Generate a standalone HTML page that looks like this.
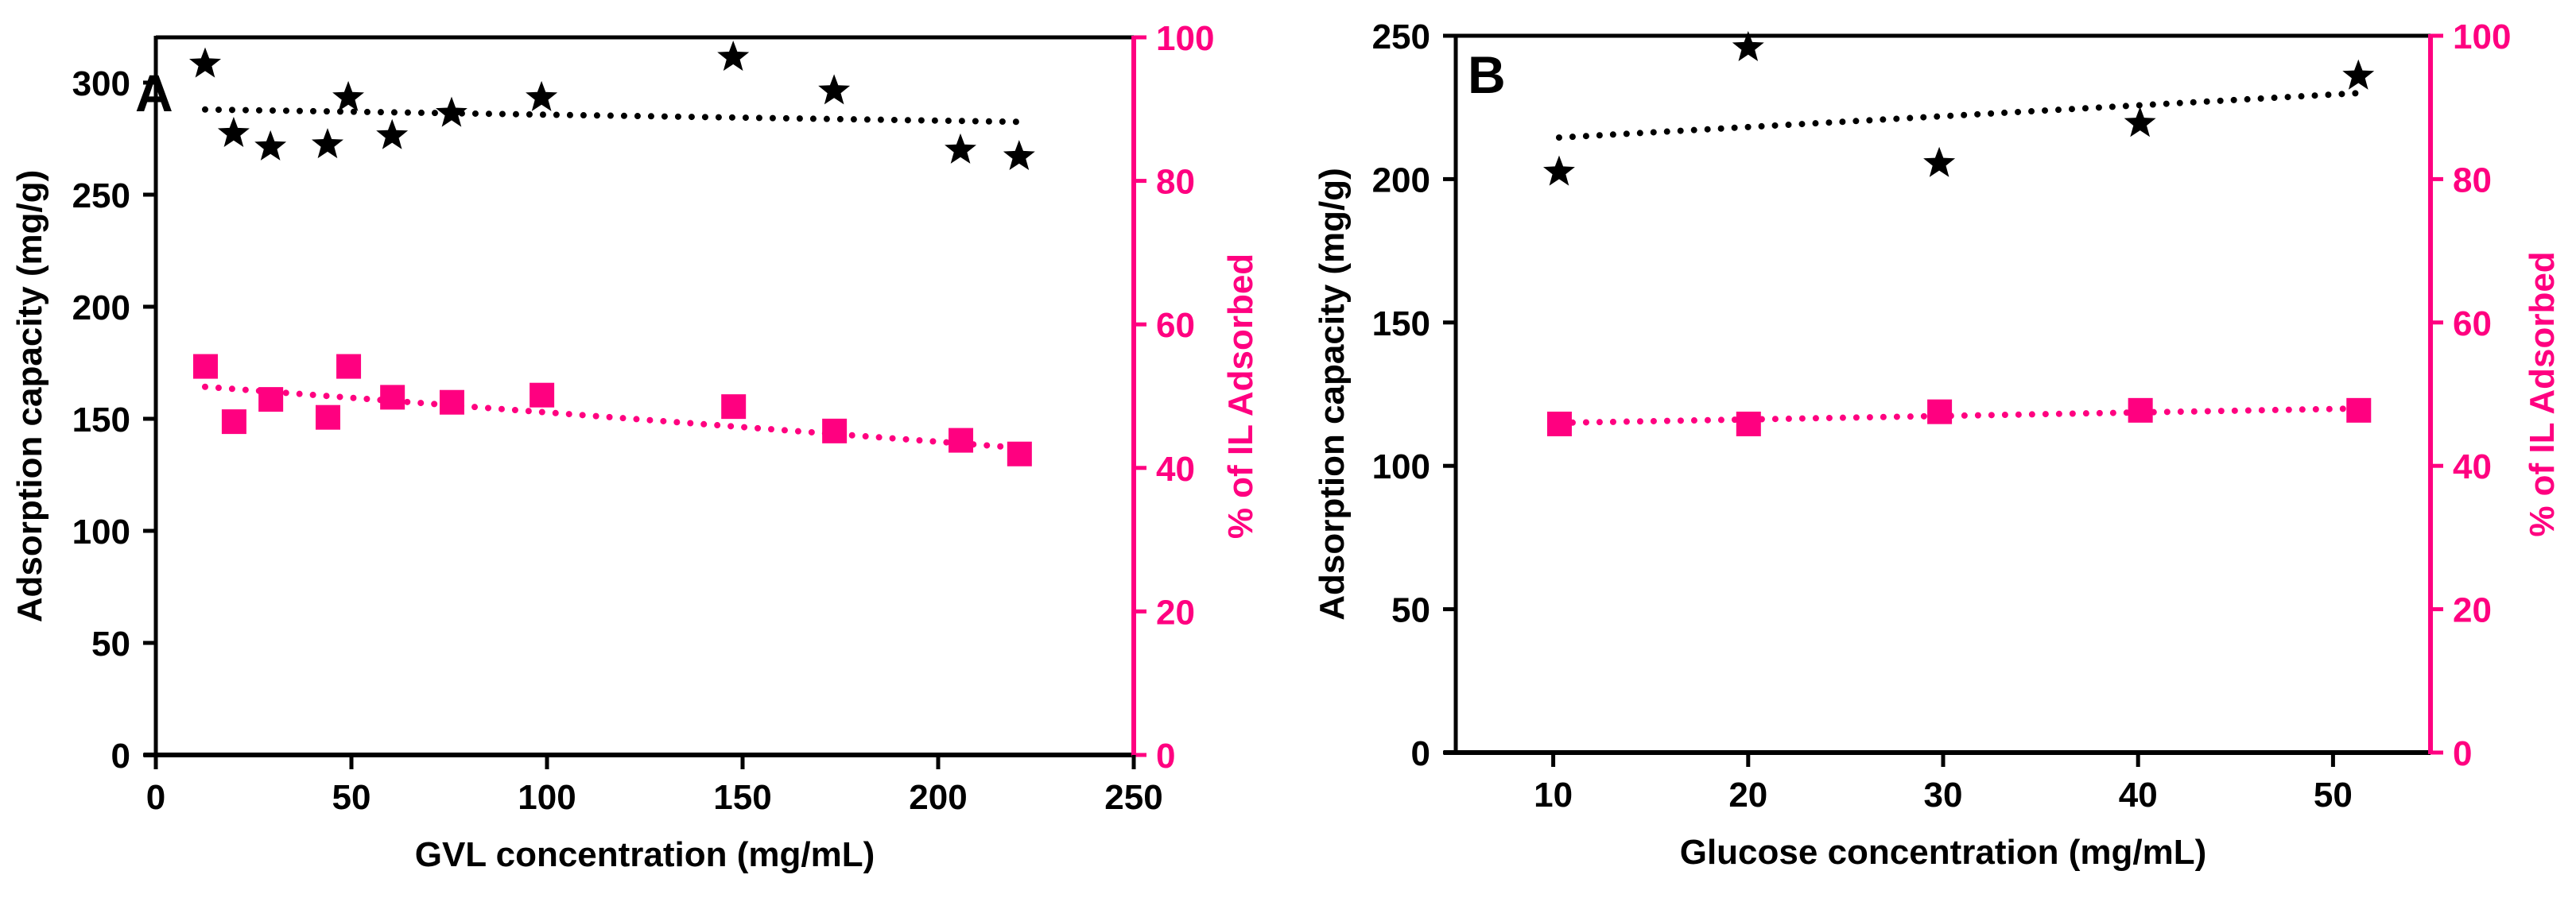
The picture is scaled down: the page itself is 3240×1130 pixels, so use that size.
<!DOCTYPE html>
<html><head><meta charset="utf-8"><style>
html,body{margin:0;padding:0;background:#fff;}
svg{display:block;font-family:"Liberation Sans",Arial,sans-serif;font-weight:bold;}
</style></head><body>
<svg id="chart" width="3240" height="1130" viewBox="0 0 3240 1130" xmlns="http://www.w3.org/2000/svg"></svg>
<script>
// Panel A data
const aX = [12.6, 19.9, 29.3, 43.9, 49.2, 60.4, 75.6, 98.6, 147.6, 173.4, 205.7, 220.7];
const aCapacity = [309, 278, 272, 273, 294, 277, 287, 294, 312, 297, 270.6, 267.7];
const aPercent = [54.2, 46.5, 49.6, 47.1, 54.2, 49.9, 49.2, 50.2, 48.6, 45.2, 43.9, 42.0];
const aCapTrend = [288, 282.5];
const aPctTrend = [51.3, 42.8];
const aXTicks = [0, 50, 100, 150, 200, 250];
const aYTicks = [0, 50, 100, 150, 200, 250, 300];
const aRTicks = [0, 20, 40, 60, 80, 100];
// Panel B data
const bX = [10.3, 20.0, 29.8, 40.1, 51.3];
const bCapacity = [203, 246.4, 206, 220, 236.5];
const bPercent = [45.9, 45.9, 47.6, 47.8, 47.8];
const bCapTrend = [214.5, 230];
const bPctTrend = [46.0, 48.0];
const bXTicks = [10, 20, 30, 40, 50];
const bYTicks = [0, 50, 100, 150, 200, 250];
const bRTicks = [0, 20, 40, 60, 80, 100];

const NS = "http://www.w3.org/2000/svg";
const svg = document.getElementById('chart');
const PINK = "#ff0080";
function mk(tag, attrs, parent){
  const e = document.createElementNS(NS, tag);
  for (const k in attrs) e.setAttribute(k, attrs[k]);
  (parent||svg).appendChild(e);
  return e;
}
function scale(d0,d1,r0,r1){return v => r0 + (v-d0)/(d1-d0)*(r1-r0);}
function starPath(cx,cy,R){
  const r = R*0.42; let p = "";
  for(let i=0;i<10;i++){
    const ang = -Math.PI/2 + i*Math.PI/5;
    const rr = i%2===0?R:r;
    p += (i?"L":"M") + (cx+rr*Math.cos(ang)).toFixed(1) + " " + (cy+rr*Math.sin(ang)).toFixed(1);
  }
  return p+"Z";
}

function panel(cfg){
  const g = mk('g', {});
  
  
  const X = scale(cfg.xMin, cfg.xMax, cfg.left, cfg.right);
  const Y = scale(0, cfg.yMax, cfg.bottom, cfg.top);
  const R = scale(0, 100, cfg.bottom, cfg.top);

  // top frame
  let e = mk('line', {x1:cfg.left, y1:cfg.top, x2:cfg.right, y2:cfg.top, stroke:'#000', 'stroke-width':5}, g);
   
  // left axis
  e = mk('line', {x1:cfg.left, y1:cfg.top-2, x2:cfg.left, y2:cfg.bottom+3, stroke:'#000', 'stroke-width':5}, g);
   
  // bottom axis
  e = mk('line', {x1:cfg.left-15, y1:cfg.bottom, x2:cfg.right, y2:cfg.bottom, stroke:'#000', 'stroke-width':6}, g);
   
  // right axis
  e = mk('line', {x1:cfg.right, y1:cfg.top-2, x2:cfg.right, y2:cfg.bottom+2, stroke:PINK, 'stroke-width':6}, g);
   

  cfg.yTicks.forEach(v=>{
    const y = Y(v);
    let t = mk('line', {x1:cfg.left-16, y1:y, x2:cfg.left, y2:y, stroke:'#000', 'stroke-width':5}, g);
     
    t = mk('text', {x:cfg.left-32, y:y+16, 'text-anchor':'end', 'font-size':44, fill:'#000'}, g);
     
    t.textContent = v;
  });
  cfg.rTicks.forEach(v=>{
    const y = R(v);
    let t = mk('line', {x1:cfg.right, y1:y, x2:cfg.right+16, y2:y, stroke:PINK, 'stroke-width':5}, g);
     
    t = mk('text', {x:cfg.right+28, y:y+16, 'text-anchor':'start', 'font-size':44, fill:PINK}, g);
     
    t.textContent = v;
  });
  cfg.xTicks.forEach(v=>{
    const x = X(v);
    let t = mk('line', {x1:x, y1:cfg.bottom, x2:x, y2:cfg.bottom+18, stroke:'#000', 'stroke-width':5}, g);
     
    t = mk('text', {x:x, y:cfg.bottom+68, 'text-anchor':'middle', 'font-size':44, fill:'#000'}, g);
     
    t.textContent = v;
  });

  // titles
  let t = mk('text', {x:(cfg.left+cfg.right)/2, y:cfg.bottom+140, 'text-anchor':'middle', 'font-size':44, fill:'#000'}, g);
   
  t.textContent = cfg.xTitle;
  t = mk('text', {x:0, y:0, 'text-anchor':'middle', 'font-size':44, fill:'#000', transform:`translate(${cfg.lTitleX},${(cfg.top+cfg.bottom)/2}) rotate(-90)`}, g);
   
  t.textContent = 'Adsorption capacity (mg/g)';
  t = mk('text', {x:0, y:0, 'text-anchor':'middle', 'font-size':44, fill:PINK, transform:`translate(${cfg.rTitleX},${(cfg.top+cfg.bottom)/2}) rotate(-90)`}, g);
   
  t.textContent = '% of IL Adsorbed';
  t = mk('text', {x:cfg.letterX, y:cfg.letterY, 'font-size':66, fill:'#000'}, g);
   
  t.textContent = cfg.letter;

  // trend lines
  const x0 = cfg.xs[0], x1 = cfg.xs[cfg.xs.length-1];
  t = mk('line', {x1:X(x0), y1:Y(cfg.capTrend[0]), x2:X(x1), y2:Y(cfg.capTrend[1]), stroke:'#000', 'stroke-width':8, 'stroke-linecap':'round', 'stroke-dasharray':'0 17'}, g);
   
  t = mk('line', {x1:X(x0), y1:R(cfg.pctTrend[0]), x2:X(x1), y2:R(cfg.pctTrend[1]), stroke:PINK, 'stroke-width':8, 'stroke-linecap':'round', 'stroke-dasharray':'0 17'}, g);
   

  // markers
  cfg.xs.forEach((xv,i)=>{
    const sq = mk('rect', {x:X(xv)-15, y:R(cfg.pct[i])-15, width:31, height:31, fill:PINK}, g);
     
    const st = mk('path', {d:starPath(X(xv), Y(cfg.cap[i])+2, 21), fill:'#000'}, g);
     
  });
}

panel({name:'panel-a', left:196, right:1426, top:47, bottom:950, xMin:0, xMax:250, yMax:320.2,
  xs:aX, cap:aCapacity, pct:aPercent, capTrend:aCapTrend, pctTrend:aPctTrend,
  xTicks:aXTicks, yTicks:aYTicks, rTicks:aRTicks, xTitle:'GVL concentration  (mg/mL)',
  lTitleX:52, rTitleX:1575, letter:'A', letterX:170, letterY:140});
panel({name:'panel-b', left:1831, right:3057, top:45, bottom:947, xMin:5, xMax:55, yMax:250,
  xs:bX, cap:bCapacity, pct:bPercent, capTrend:bCapTrend, pctTrend:bPctTrend,
  xTicks:bXTicks, yTicks:bYTicks, rTicks:bRTicks, xTitle:'Glucose concentration (mg/mL)',
  lTitleX:1690, rTitleX:3212, letter:'B', letterX:1846, letterY:117});
</script>
</body></html>
